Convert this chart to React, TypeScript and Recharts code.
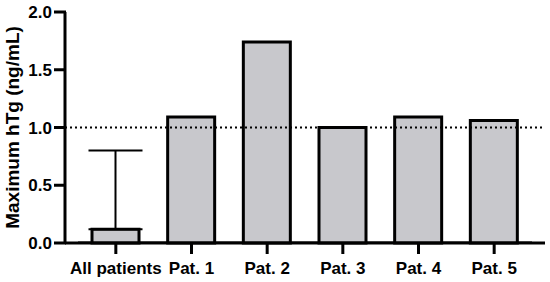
import React from "react";
import {
  Bar,
  ComposedChart,
  ErrorBar,
  ReferenceArea,
  ReferenceLine,
  XAxis,
  YAxis,
} from "recharts";

const categories = ["All patients", "Pat. 1", "Pat. 2", "Pat. 3", "Pat. 4", "Pat. 5"];
const maxHtg = [0.12, 1.09, 1.74, 1.0, 1.09, 1.06];
// upper error only (All patients), [low, high] deltas
const errorUp: (number[] | null)[] = [[0, 0.68], null, null, null, null, null];
const yTicks = [0, 0.5, 1.0, 1.5, 2.0];

const data = categories.map((name, i) => ({
  name,
  value: maxHtg[i],
  err: errorUp[i],
}));

const font = "'Liberation Sans', Arial, sans-serif";

function XTick({ x, y, payload }: any) {
  return (
    <g>
      <rect x={x - 1.5} y={y - 19} width={3} height={11} fill="#000" />
      <text
        x={x}
        y={y}
        dy="0.71em"
        textAnchor="middle"
        fontSize={17}
        fontWeight={700}
        fontFamily={font}
        fill="#000"
      >
        {payload.value}
      </text>
    </g>
  );
}

function YTick({ x, y, payload }: any) {
  return (
    <g>
      <rect x={x + 2} y={y - 1.5} width={12} height={3} fill="#000" />
      <text
        x={x}
        y={y}
        dy="0.355em"
        textAnchor="end"
        fontSize={17}
        fontWeight={700}
        fontFamily={font}
        fill="#000"
      >
        {Number(payload.value).toFixed(1)}
      </text>
    </g>
  );
}

export default function App() {
  return (
    <div>
      <style>{"body { margin: 0; }"}</style>
      <ComposedChart
        width={550}
        height={282}
        data={data}
        margin={{ top: 12, right: 5, bottom: 0, left: 0 }}
      >
        <XAxis
          dataKey="name"
          interval={0}
          padding={{ left: 13, right: 13 }}
          height={39}
          tick={<XTick />}
          tickSize={11}
          tickMargin={8}
          stroke="#000"
          strokeWidth={3}
          tickLine={false}
        />
        <XAxis xAxisId="n" type="number" domain={[0, 1]} hide />
        <YAxis
          domain={[0, 2]}
          ticks={yTicks}
          width={65}
          tick={<YTick />}
          tickSize={11}
          tickMargin={2}
          stroke="#000"
          strokeWidth={3}
          tickLine={false}
          label={{
            value: "Maximum hTg (ng/mL)",
            angle: -90,
            position: "insideLeft",
            offset: 12,
            style: {
              textAnchor: "middle",
              fontSize: 19,
              fontWeight: 700,
              fill: "#000",
              stroke: "none",
              fontFamily: font,
            },
          }}
        />
        <ReferenceLine
          y={1}
          stroke="#000"
          strokeWidth={2}
          strokeDasharray="2 3"
        />
        <Bar
          dataKey="value"
          barSize={47}
          fill="#c8c8cc"
          stroke="#000"
          strokeWidth={3}
          isAnimationActive={false}
        >
          <ErrorBar
            dataKey="err"
            direction="y"
            width={27}
            stroke="#000"
            strokeWidth={2}
          />
        </Bar>
        {/* axis strips inside the plot edge */}
        <ReferenceArea
          y1={0}
          y2={0.014}
          fill="#000"
          fillOpacity={1}
          stroke="none"
        />
        <ReferenceArea
          xAxisId="n"
          x1={0}
          x2={0.004}
          fill="#000"
          fillOpacity={1}
          stroke="none"
        />
      </ComposedChart>
    </div>
  );
}
